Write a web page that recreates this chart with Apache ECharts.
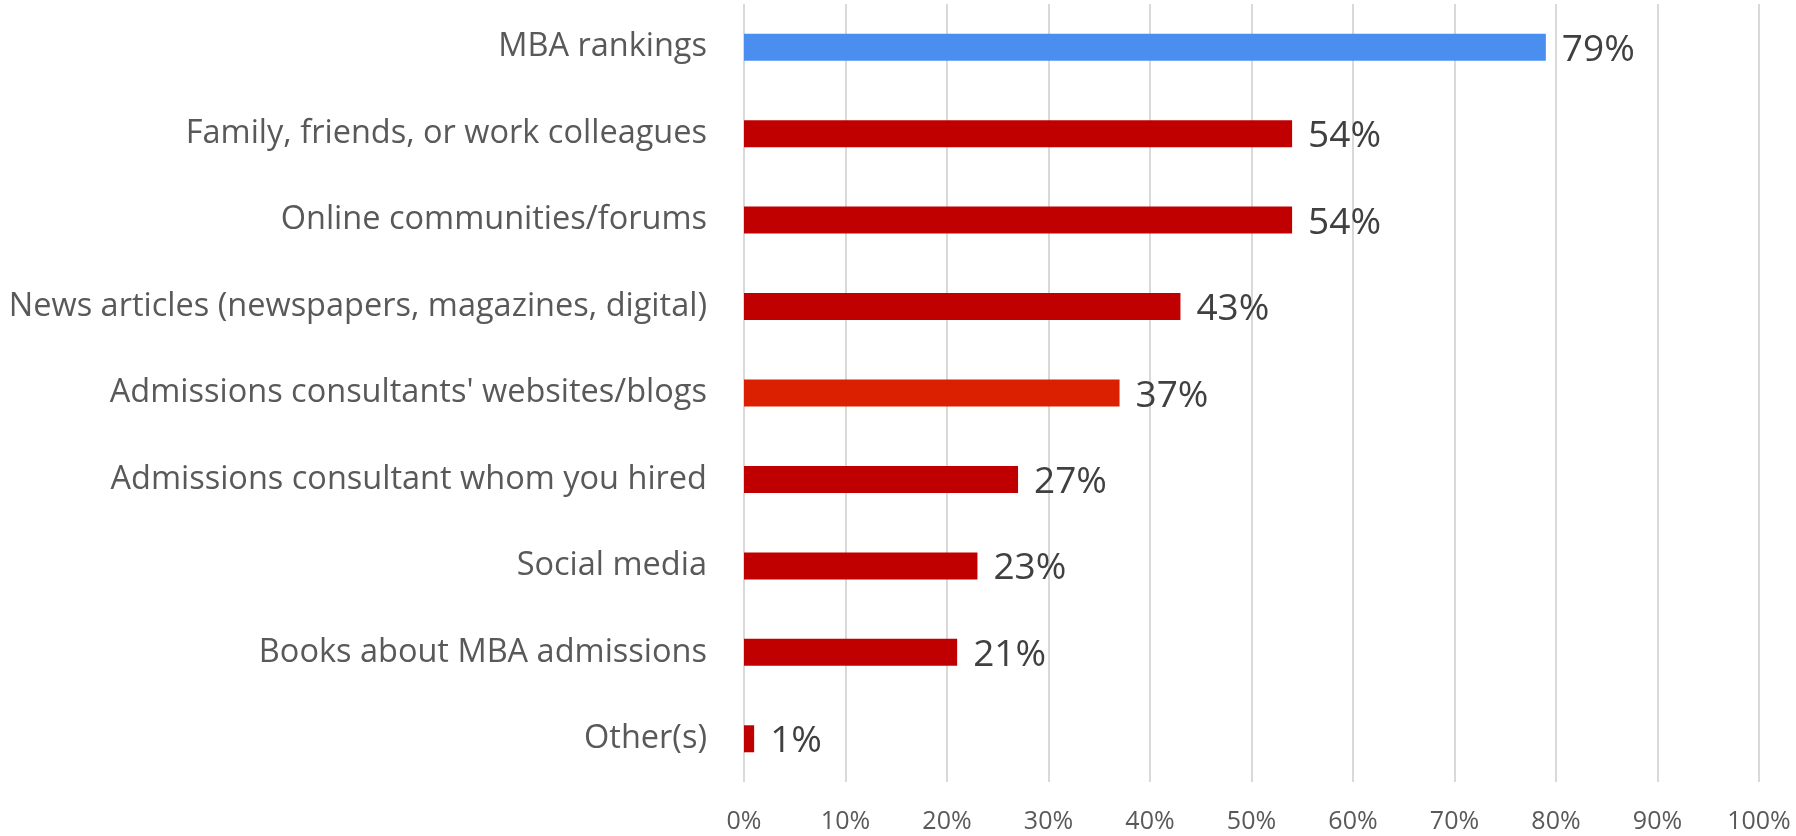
<!DOCTYPE html>
<html lang="en">
<head>
    <meta charset="UTF-8">
    <title>MBA research sources</title>
    <script src="https://cdn.jsdelivr.net/npm/echarts@6/dist/echarts.min.js"></script>
    <style>
        html, body { margin: 0; padding: 0; background: #fff; }
        #main { width: 1796px; height: 836px; }
    </style>
</head>
<body>
<div id="main"></div>
<script type="application/javascript">
    // data, top to bottom
    var categories = [
        'MBA rankings',
        'Family, friends, or work colleagues',
        'Online communities/forums',
        'News articles (newspapers, magazines, digital)',
        "Admissions consultants' websites/blogs",
        'Admissions consultant whom you hired',
        'Social media',
        'Books about MBA admissions',
        'Other(s)'
    ];
    var values = [79, 54, 54, 43, 37, 27, 23, 21, 1];
    var barColors = ['#4a8ef0', '#c00000', '#c00000', '#c00000', '#da2000', '#c00000', '#c00000', '#c00000', '#c00000'];

    var myChart = echarts.init(document.getElementById('main'));

    var option = {
        animation: false,
        grid: { left: 744, right: 37, top: 4, bottom: 54, containLabel: false },
        xAxis: {
            type: 'value',
            min: 0,
            max: 100,
            interval: 10,
            axisLine: { show: false },
            axisTick: { show: false },
            splitLine: { lineStyle: { color: '#d9d9d9', width: 2 } },
            axisLabel: {
                formatter: '{value}%',
                color: '#595959',
                fontFamily: 'Open Sans',
                fontSize: 25,
                margin: 27
            }
        },
        yAxis: {
            type: 'category',
            inverse: true,
            data: categories,
            axisLine: { show: false },
            axisTick: { show: false },
            axisLabel: {
                color: '#595959',
                fontFamily: 'Open Sans',
                fontSize: 32.5,
                margin: 37
            }
        },
        series: [{
            type: 'bar',
            barWidth: 27,
            data: values.map(function (v, i) {
                return { value: v, itemStyle: { color: barColors[i] } };
            }),
            label: {
                show: true,
                position: 'right',
                distance: 16,
                offset: [0, 3],
                formatter: '{c}%',
                color: '#404040',
                fontFamily: 'Open Sans',
                fontSize: 37
            }
        }]
    };

    myChart.setOption(option);
</script>
</body>
</html>
